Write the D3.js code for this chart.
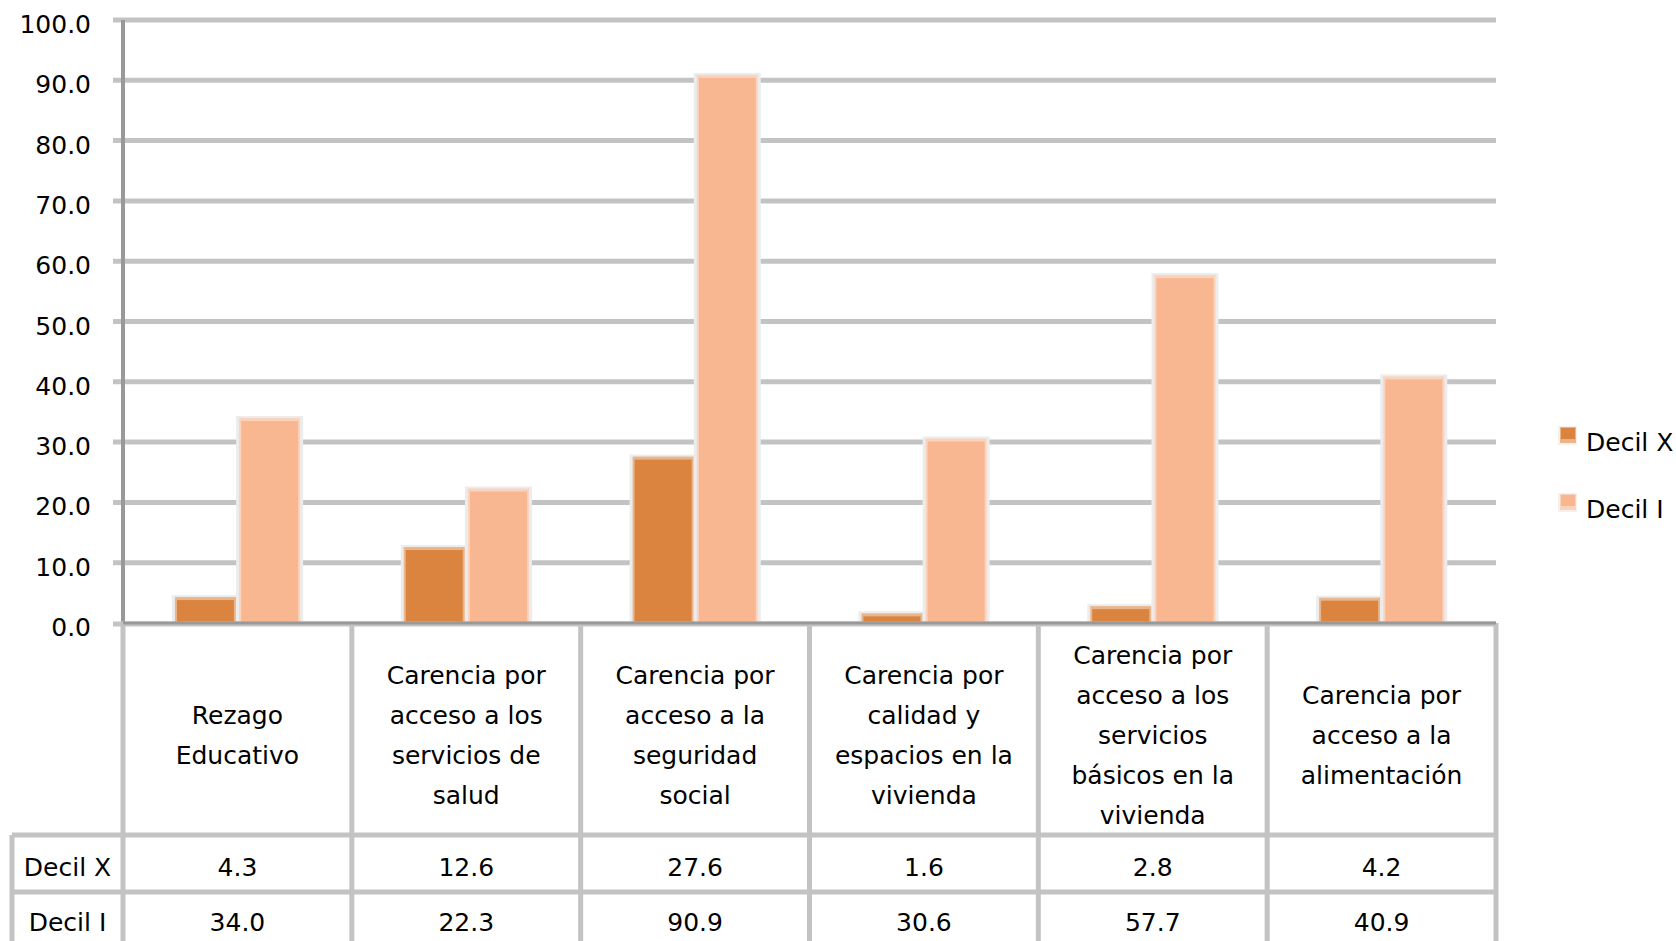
<!DOCTYPE html>
<html>
<head>
<meta charset="utf-8">
<script src="https://cdn.jsdelivr.net/npm/d3@7"></script>
<style>
  html, body { margin: 0; padding: 0; background: #fff; }
  svg { display: block; font-family: "DejaVu Sans", sans-serif; }
</style>
</head>
<body>
<svg id="chart" width="1676" height="941"></svg>
<script>
// ---- data ----
const categories = [
  "Rezago Educativo",
  "Carencia por acceso a los servicios de salud",
  "Carencia por acceso a la seguridad social",
  "Carencia por calidad y espacios en la vivienda",
  "Carencia por acceso a los servicios básicos en la vivienda",
  "Carencia por acceso a la alimentación"
];
const categoryLines = [
  ["Rezago", "Educativo"],
  ["Carencia por", "acceso a los", "servicios de", "salud"],
  ["Carencia por", "acceso a la", "seguridad", "social"],
  ["Carencia por", "calidad y", "espacios en la", "vivienda"],
  ["Carencia por", "acceso a los", "servicios", "básicos en la", "vivienda"],
  ["Carencia por", "acceso a la", "alimentación"]
];
const seriesNames = ["Decil X", "Decil I"];
const decilX = [4.3, 12.6, 27.6, 1.6, 2.8, 4.2];
const decilI = [34.0, 22.3, 90.9, 30.6, 57.7, 40.9];
const yTicks = [0, 10, 20, 30, 40, 50, 60, 70, 80, 90, 100];

const seriesValues = [decilX, decilI];
const colors = ["#DB843F", "#F9B791"];
const edgeColors = ["#E9B68C", "#FBD3BD"];

// ---- layout ----
const svg = d3.select("#chart");
const plotLeft = 123, plotRight = 1496, plotTop = 20, plotBottom = 623;
const tableLeft = 12, headerBottom = 835, rowH = 57;
const fs = 25;

const x = d3.scaleBand().domain(categories).range([plotLeft, plotRight]).padding(0);
const bw = x.bandwidth();
const xs = d3.scaleBand().domain(seriesNames).range([bw * 0.227, bw * 0.774]).paddingInner(0.05);
const y = d3.scaleLinear().domain([0, 100]).range([plotBottom, plotTop]);

// gridlines
svg.append("g").selectAll("line").data(yTicks.filter(d => d > 0)).join("line")
  .attr("x1", plotLeft - 10).attr("x2", plotRight)
  .attr("y1", d => y(d)).attr("y2", d => y(d))
  .attr("stroke", "#C3C3C3").attr("stroke-width", 5);

// y axis via d3
const yAxis = d3.axisLeft(y).tickValues(yTicks).tickFormat(d3.format(".1f")).tickSize(0).tickPadding(32);
const ga = svg.append("g").attr("transform", `translate(${plotLeft},0)`).call(yAxis);
ga.select(".domain").remove();
ga.selectAll("text").attr("font-size", fs).attr("fill", "#000")
  .attr("font-family", "DejaVu Sans").attr("dy", "0.5em");

// bars
const groups = svg.append("g").selectAll("g").data(categories).join("g")
  .attr("transform", d => `translate(${x(d)},0)`);
seriesNames.forEach((s, si) => {
  // soft shadow
  groups.append("rect")
    .attr("x", (d, i) => xs(s) - 3).attr("width", xs.bandwidth() + 6)
    .attr("y", (d, i) => y(seriesValues[si][i]) - 2)
    .attr("height", (d, i) => plotBottom - y(seriesValues[si][i]) + 2)
    .attr("fill", "#ECECEC");
  groups.append("rect")
    .attr("x", (d, i) => xs(s)).attr("width", xs.bandwidth())
    .attr("y", (d, i) => y(seriesValues[si][i]))
    .attr("height", (d, i) => plotBottom - y(seriesValues[si][i]))
    .attr("fill", edgeColors[si]);
  groups.append("rect")
    .attr("x", (d, i) => xs(s) + 2).attr("width", xs.bandwidth() - 4)
    .attr("y", (d, i) => y(seriesValues[si][i]) + 3)
    .attr("height", (d, i) => Math.max(0, plotBottom - y(seriesValues[si][i]) - 3))
    .attr("fill", colors[si]);
});

// y axis line
svg.append("line").attr("x1", plotLeft).attr("x2", plotLeft)
  .attr("y1", plotTop).attr("y2", plotBottom)
  .attr("stroke", "#999").attr("stroke-width", 4);

// ---- data table ----
const tbl = svg.append("g");
const tableBottom = 960;
const lineColor = "#C3C3C3";
// vertical column lines
const colEdges = categories.map(c => x(c)).concat([plotRight]);
tbl.selectAll("line.v").data(colEdges).join("line").attr("class", "v")
  .attr("x1", d => d).attr("x2", d => d)
  .attr("y1", plotBottom).attr("y2", tableBottom)
  .attr("stroke", lineColor).attr("stroke-width", 5);
// left border of row label column
tbl.append("line").attr("x1", tableLeft).attr("x2", tableLeft)
  .attr("y1", headerBottom).attr("y2", tableBottom)
  .attr("stroke", lineColor).attr("stroke-width", 5);
// horizontal row lines
const rowLines = [headerBottom, headerBottom + rowH];
tbl.selectAll("line.h").data(rowLines).join("line").attr("class", "h")
  .attr("x1", tableLeft).attr("x2", plotRight)
  .attr("y1", d => d).attr("y2", d => d)
  .attr("stroke", lineColor).attr("stroke-width", 5);

// x axis line (0)
svg.append("line").attr("x1", plotLeft - 10).attr("x2", plotRight)
  .attr("y1", plotBottom + 1).attr("y2", plotBottom + 1)
  .attr("stroke", "#C3C3C3").attr("stroke-width", 5);
svg.append("line").attr("x1", plotLeft).attr("x2", plotRight)
  .attr("y1", plotBottom).attr("y2", plotBottom)
  .attr("stroke", "#999").attr("stroke-width", 3);

// header category labels
const headCenter = 735, lh = 40;
categories.forEach((c, i) => {
  const lines = categoryLines[i];
  const n = lines.length;
  const t = tbl.append("text").attr("text-anchor", "middle")
    .attr("font-size", fs).attr("fill", "#000");
  lines.forEach((ln, j) => {
    t.append("tspan").attr("x", x(c) + bw / 2)
      .attr("y", headCenter + (j - (n - 1) / 2) * lh + 9)
      .text(ln);
  });
});

// value rows
const rowCenters = [headerBottom + 32, headerBottom + 32 + 55];
seriesNames.forEach((s, si) => {
  tbl.append("text").attr("x", (tableLeft + plotLeft) / 2).attr("y", rowCenters[si] + 9)
    .attr("text-anchor", "middle").attr("font-size", fs).attr("fill", "#000").text(s);
  tbl.selectAll("text.v" + si).data(categories).join("text").attr("class", "v" + si)
    .attr("x", d => x(d) + bw / 2).attr("y", rowCenters[si] + 9)
    .attr("text-anchor", "middle").attr("font-size", fs).attr("fill", "#000")
    .text((d, i) => d3.format(".1f")(seriesValues[si][i]));
});

// legend
const legendY = [435, 502];
const lg = svg.append("g");
seriesNames.forEach((s, si) => {
  lg.append("rect").attr("x", 1558).attr("y", legendY[si] - 9).attr("width", 19).attr("height", 19)
    .attr("fill", "#F6F0EC");
  lg.append("rect").attr("x", 1560).attr("y", legendY[si] - 8).attr("width", 16).attr("height", 16)
    .attr("fill", edgeColors[si]);
  lg.append("rect").attr("x", 1561).attr("y", legendY[si] - 7).attr("width", 14).attr("height", 11)
    .attr("fill", colors[si]);
  lg.append("text").attr("x", 1586).attr("y", legendY[si] + 16)
    .attr("font-size", fs).attr("fill", "#000").text(s);
});
</script>
</body>
</html>
